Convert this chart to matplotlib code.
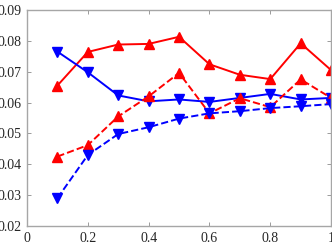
import numpy as np
import matplotlib.pyplot as plt

x = [0.1, 0.2, 0.3, 0.4, 0.5, 0.6, 0.7, 0.8, 0.9, 1.0]
red_solid = [0.0655, 0.0764, 0.0788, 0.0790, 0.0813, 0.0724, 0.0690, 0.0676, 0.0792, 0.0705]
blue_solid = [0.0765, 0.0698, 0.0623, 0.0604, 0.0610, 0.0602, 0.0615, 0.0628, 0.0610, 0.0615]
red_dash = [0.0425, 0.0462, 0.0555, 0.0620, 0.0696, 0.0565, 0.0614, 0.0585, 0.0675, 0.0615]
blue_dash = [0.0290, 0.0430, 0.0498, 0.0520, 0.0548, 0.0565, 0.0572, 0.0582, 0.0588, 0.0595]

xticks = [0, 0.2, 0.4, 0.6, 0.8, 1]
xlabels = ['0', '0.2', '0.4', '0.6', '0.8', '1']
yticks = [0.02, 0.03, 0.04, 0.05, 0.06, 0.07, 0.08, 0.09]
ylabels = ['0.02', '0.03', '0.04', '0.05', '0.06', '0.07', '0.08', '0.09']

plt.rcParams['font.family'] = ['Liberation Serif', 'DejaVu Serif']

fig = plt.figure(figsize=(3.32, 2.49), dpi=100)
ax = fig.add_axes([0.0813, 0.0924, 0.916, 0.8676])

ax.plot(x, red_solid, '-', color='red', marker='^', lw=1.4, ms=6.5, clip_on=False)
ax.plot(x, blue_solid, '-', color='blue', marker='v', lw=1.4, ms=6.5, clip_on=False)
ax.plot(x, red_dash, '--', color='red', marker='^', lw=1.4, ms=6.5, clip_on=False)
ax.plot(x, blue_dash, '--', color='blue', marker='v', lw=1.4, ms=6.5, clip_on=False)

ax.set_xlim(0, 1)
ax.set_ylim(0.02, 0.09)
ax.set_xticks(xticks)
ax.set_xticklabels(xlabels)
ax.set_yticks(yticks)
ax.set_yticklabels(ylabels)

for s in ax.spines.values():
    s.set_color('#a6a6a6')
    s.set_linewidth(1.0)
ax.tick_params(direction='in', length=3, width=0.6, color='#8c8c8c',
               top=True, right=True, labelsize=10, labelcolor='#262626', pad=4)

fig.savefig('out.png', dpi=100)
